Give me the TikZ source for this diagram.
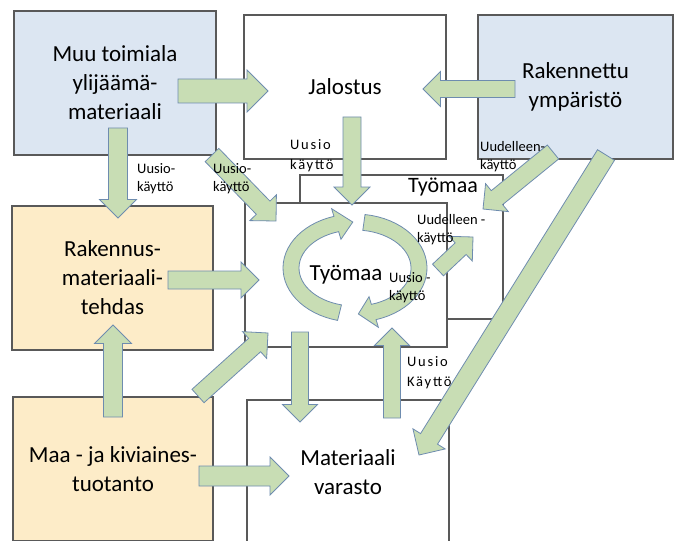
\documentclass[tikz,border=0pt]{standalone}
\usepackage{fontspec}
\setmainfont{Carlito}
\usetikzlibrary{calc}

\definecolor{boxblue}{RGB}{220,230,242}
\definecolor{boxtan}{RGB}{253,236,200}
\definecolor{arrowgreen}{RGB}{200,221,180}
\definecolor{arrowline}{RGB}{110,140,175}
\definecolor{boxline}{RGB}{89,89,89}

\tikzset{
    box/.style={draw=boxline, line width=1.2pt, fill=white, minimum width=202pt, minimum height=144pt,
        inner sep=0pt, align=center, font=\fontsize{23}{29}\selectfont},
    barrow/.style={draw=arrowline, line width=0.8pt, fill=arrowgreen, line join=miter},
    tag/.style={anchor=west, align=left, inner sep=0pt, font=\fontsize{14.5}{18}\selectfont},
    widetag/.style={tag, font=\fontsize{14.5}{20}\selectfont\addfontfeature{LetterSpace=12}},
}

% block arrow: [half shaft]{tail}{tip}
\newcommand{\barrow}[3][9pt]{%
    \path[barrow] let \p1=($(#3)!{#1+9pt}!(#2)$) in
        ($(#2)!#1!90:(#3)$) -- ($(\p1)!#1!90:(#3)$) -- ($(\p1)!{#1+9pt}!90:(#3)$) -- (#3)
        -- ($(\p1)!{#1+9pt}!-90:(#3)$) -- ($(\p1)!#1!-90:(#3)$) -- ($(#2)!#1!-90:(#3)$) -- cycle;}

% curved arrow round the site: {tail angle}{head base}{tip}
\newcommand{\carrow}[3]{%
    \path[barrow] plot[domain=#1:#2, samples=30] ({355+72*cos(\x)},{268+54*sin(\x)})
        -- ({355+80*cos(#2)},{268+62*sin(#2)}) -- ({355+64*cos(#3)},{268+46*sin(#3)})
        -- ({355+48*cos(#2)},{268+30*sin(#2)})
        -- plot[domain=#2:#1, samples=30] ({355+56*cos(\x)},{268+38*sin(\x)}) -- cycle;}

\begin{document}
\begin{tikzpicture}[x=1pt, y=-1pt]
    \useasboundingbox (0,0) rectangle (679,540);
    \clip (0,0) rectangle (679,540);

    \node[box, fill=boxblue] (muu) at (115,83) {Muu toimiala\\ylijäämä-\\materiaali};
    \node[box] (jal) at (345,87) {Jalostus};
    \node[box, fill=boxblue, minimum width=195pt] (rak) at (575.5,87) {Rakennettu\\ympäristö};
    \node[box, minimum width=203pt] (tyob) at (401.5,247) {};
    \node[font=\fontsize{22}{26}\selectfont] (tyobt) at (443,187) {Työmaa};
    \node[box] (tyo) at (346,275) {Työmaa};
    \node[box, fill=boxtan, minimum width=201pt] (rme) at (112.5,278) {Rakennus-\\materiaali-\\tehdas};
    \node[box, fill=boxtan, minimum width=200pt] (maa) at (113,469) {Maa - ja kiviaines-\\tuotanto};
    \node[box] (var) at (348,472) {Materiaali\\varasto};

    \coordinate (muu-j) at (178,91);   \coordinate (jal-m) at (268,91);
    \coordinate (rak-j) at (515,89);   \coordinate (jal-r) at (423,89);
    \coordinate (muu-r) at (118,128);  \coordinate (rme-m) at (118,218);
    \coordinate (muu-t) at (212,155);  \coordinate (tyo-m) at (276,221);
    \coordinate (jal-t) at (352,117);  \coordinate (tyo-j) at (352,205);
    \coordinate (rak-t) at (553,152);  \coordinate (tyob-r) at (483,209);
    \coordinate (rak-v) at (606,155);  \coordinate (var-r) at (419,455);
    \coordinate (rme-t) at (168,280);  \coordinate (tyo-rme) at (259,280);
    \coordinate (maa-r) at (113,417);  \coordinate (rme-maa) at (113,325);
    \coordinate (maa-t) at (198,396);  \coordinate (tyo-maa) at (268,333);
    \coordinate (maa-v) at (199,476);  \coordinate (var-maa) at (289,476);
    \coordinate (tyo-v) at (300,332);  \coordinate (var-t) at (300,422);
    \coordinate (var-tb) at (392,418); \coordinate (tyo-vb) at (392,328);
    \coordinate (tyo-b) at (438,270);  \coordinate (tyob-t) at (473,237);

    \barrow[12pt]{muu-j}{jal-m}
    \barrow[8.5pt]{rak-j}{jal-r}
    \barrow[9.5pt]{muu-r}{rme-m}
    \barrow[9.5pt]{muu-t}{tyo-m}
    \barrow{jal-t}{tyo-j}
    \barrow{rak-t}{tyob-r}
    \barrow[10pt]{rak-v}{var-r}
    \barrow{rme-t}{tyo-rme}
    \barrow[9.5pt]{maa-r}{rme-maa}
    \barrow{maa-t}{tyo-maa}
    \barrow[10pt]{maa-v}{var-maa}
    \barrow[8.5pt]{tyo-v}{var-t}
    \barrow[8.5pt]{var-tb}{tyo-vb}
    \barrow[8pt]{tyo-b}{tyob-t}
    \carrow{104}{253}{268}
    \carrow{278}{433}{447}

    \node[tag] (u1) at (137,179) {Uusio-\\käyttö};
    \node[tag] (u2) at (213,179) {Uusio-\\käyttö};
    \node[widetag] (u3) at (290,156) {Uusio\\käyttö};
    \node[tag] (u4) at (480,157) {Uudelleen-\\käyttö};
    \node[tag] (u5) at (417,229.5) {Uudelleen -\\käyttö};
    \node[tag] (u6) at (389,288) {Uusio -\\käyttö};
    \node[widetag] (u7) at (407,372.5) {Uusio\\Käyttö};
\end{tikzpicture}
\end{document}
